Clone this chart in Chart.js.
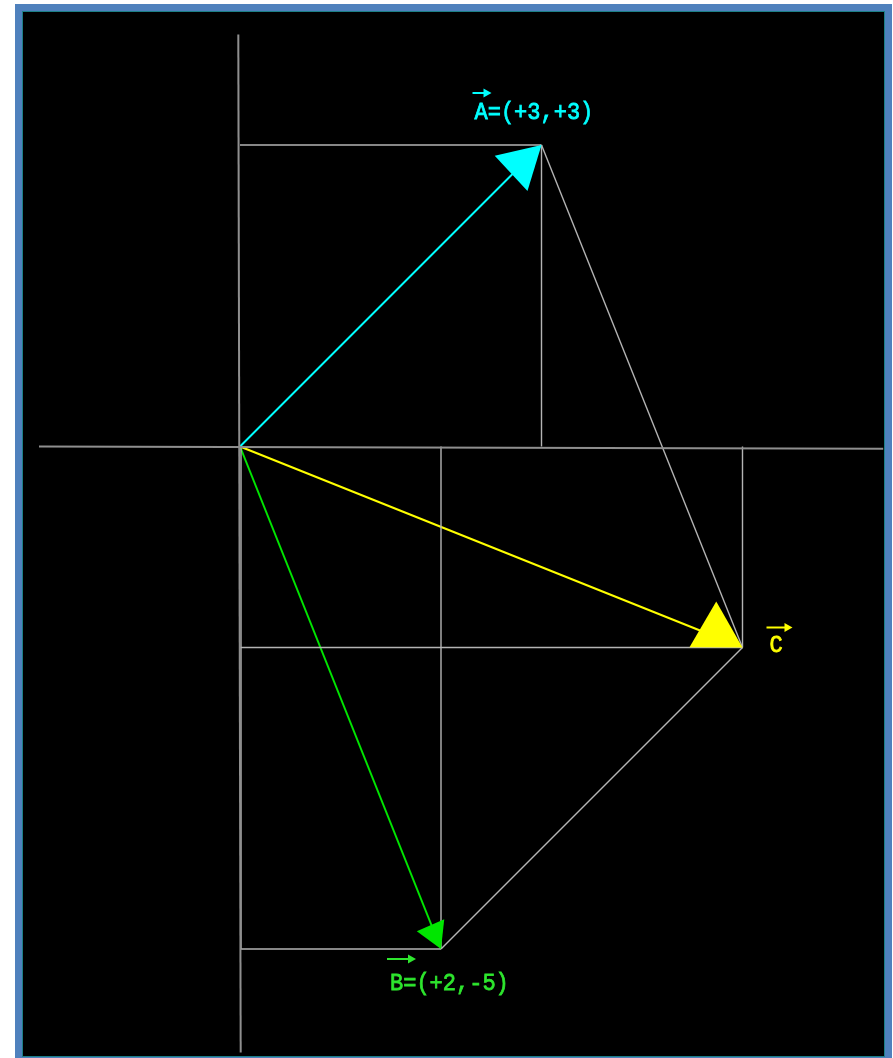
<!DOCTYPE html>
<html lang="en">
<head>
  <meta charset="UTF-8">
  <title>Vector addition A + B = C</title>
  <style>
    html, body { margin: 0; padding: 0; background: #fff; overflow: hidden; }
    #frame { position: absolute; left: 15px; top: 4px; width: 863px; height: 1046px;
             border: 7px solid #4f81bd; }
    #inner { width: 100%; height: 100%; box-sizing: border-box;
             border: 1px solid #1d7f86; background: #000; }
    #chart { position: absolute; left: 0; top: 0; }
  </style>
  <script src="https://cdn.jsdelivr.net/npm/chart.js"></script>
</head>
<body>
  <div id="frame"><div id="inner"></div></div>
  <canvas id="chart" width="893" height="1058"></canvas>

  <script>
    // vectors, C = A + B
    const vecNames  = ['A', 'B', 'C'];
    const vecX      = [3, 2, 5];
    const vecY      = [3, -5, -2];
    const vecLabels = ['A=(+3,+3)', 'B=(+2,-5)', 'C'];

    // axes (ends, both a little tilted)
    const axisXFrom = [-2.0, 0];
    const axisXTo   = [6.4, -0.022];
    const axisYFrom = [-0.017, 4.1];
    const axisYTo   = [0.007, -6.03];

    // styles
    const vecColors = ['#00ffff', '#00e600', '#ffff00'];
    const textColors = ['#00ffff', '#2ee62e', '#ffff00'];
    const headSize  = [48, 30, 53];   // px, side of the arrow head
    const headTurn  = [2, -2, 8.5];   // deg, head slightly off the line
    const labelDx   = [-67, -51, 27];
    const labelDy   = [-26, 41, 4];
    const barFrom   = [-69, -54, 24];
    const barTo     = [-50, -25, 50];
    const barDy     = [-52, 10, -20];

    // scale: origin at (240, 446.5) px, 100.5 px per unit
    const unit = 100.5, ox = 240, oy = 446.5, W = 893, H = 1058;

    const seg = (p, q, color, width) => ({
      data: [{ x: p[0], y: p[1] }, { x: q[0], y: q[1] }],
      showLine: true, borderColor: color, borderWidth: width,
      pointRadius: 0, fill: false
    });

    const datasets = [];
    datasets.push(seg(axisXFrom, axisXTo, '#8f8f8f', 2));
    datasets.push(seg(axisYFrom, axisYTo, '#8f8f8f', 2));
    // component boxes
    vecNames.forEach((n, i) => {
      datasets.push(seg([0, vecY[i]], [vecX[i], vecY[i]], '#b4b4b4', 1.4));
      datasets.push(seg([vecX[i], 0], [vecX[i], vecY[i]], '#b4b4b4', 1.4));
    });
    datasets.push(seg([0.01, 0], [0.01, vecY[1]], '#b4b4b4', 1.4));
    // parallelogram
    datasets.push(seg([vecX[0], vecY[0]], [vecX[2], vecY[2]], '#b4b4b4', 1.4));
    datasets.push(seg([vecX[1], vecY[1]], [vecX[2], vecY[2]], '#b4b4b4', 1.4));
    // the vectors
    vecNames.forEach((n, i) => {
      datasets.push(seg([0, 0], [vecX[i], vecY[i]], vecColors[i], 2));
    });

    const vectorDecor = {
      id: 'vectorDecor',
      afterDatasetsDraw(chart) {
        const { ctx, scales: { x, y } } = chart;
        const px0 = x.getPixelForValue(0), py0 = y.getPixelForValue(0);
        vecNames.forEach((n, i) => {
          const tx = x.getPixelForValue(vecX[i]), ty = y.getPixelForValue(vecY[i]);
          const ang = Math.atan2(ty - py0, tx - px0) + headTurn[i] * Math.PI / 180;
          const s = headSize[i], h = s * Math.sqrt(3) / 2;
          const bx = tx - h * Math.cos(ang), by = ty - h * Math.sin(ang);
          const nx = -Math.sin(ang) * s / 2, ny = Math.cos(ang) * s / 2;
          ctx.save();
          ctx.fillStyle = vecColors[i];
          ctx.beginPath();
          ctx.moveTo(tx, ty);
          ctx.lineTo(bx + nx, by + ny);
          ctx.lineTo(bx - nx, by - ny);
          ctx.closePath();
          ctx.fill();

          // label text, a bit taller and heavier like the typewriter font
          ctx.fillStyle = textColors[i];
          ctx.strokeStyle = textColors[i];
          ctx.save();
          ctx.translate(tx + labelDx[i], ty + labelDy[i]);
          ctx.scale(1, 1.12);
          ctx.font = '22px "Liberation Mono", "Courier New", monospace';
          ctx.textBaseline = 'alphabetic';
          ctx.textAlign = 'left';
          ctx.lineWidth = 0.7;
          ctx.fillText(vecLabels[i], 0, 0);
          ctx.strokeText(vecLabels[i], 0, 0);
          ctx.restore();

          // little arrow over the letter
          const ay = ty + barDy[i], a0 = tx + barFrom[i], a1 = tx + barTo[i];
          ctx.lineWidth = 2;
          ctx.beginPath();
          ctx.moveTo(a0, ay);
          ctx.lineTo(a1 - 5, ay);
          ctx.stroke();
          ctx.beginPath();
          ctx.moveTo(a1, ay);
          ctx.lineTo(a1 - 8, ay - 4.5);
          ctx.lineTo(a1 - 8, ay + 4.5);
          ctx.closePath();
          ctx.fill();
          ctx.restore();
        });
      }
    };

    new Chart(document.getElementById('chart'), {
      type: 'scatter',
      data: { datasets },
      options: {
        responsive: false,
        animation: false,
        devicePixelRatio: 1,
        layout: { padding: 0 },
        plugins: { legend: { display: false }, tooltip: { enabled: false } },
        scales: {
          x: { type: 'linear', display: false, min: -ox / unit, max: (W - ox) / unit },
          y: { type: 'linear', display: false, min: (oy - H) / unit, max: oy / unit }
        }
      },
      plugins: [vectorDecor]
    });
  </script>
</body>
</html>
